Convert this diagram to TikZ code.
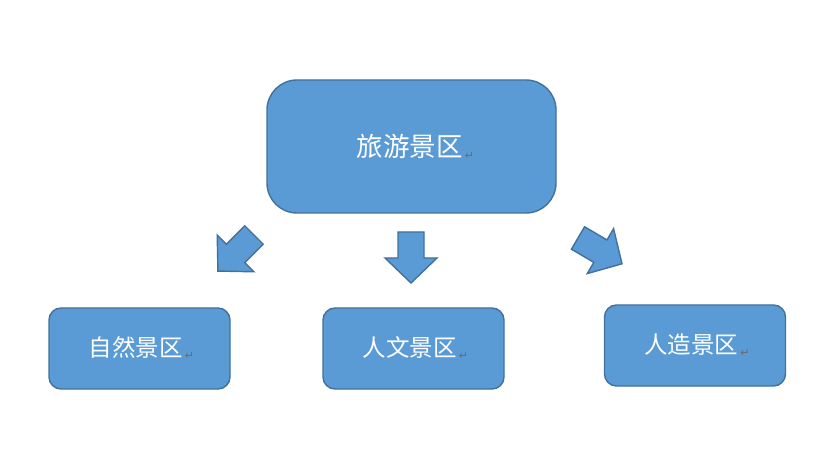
\documentclass[tikz,border=0pt]{standalone}
\usepackage{fontspec}
\newfontfamily\cjk{Noto Sans CJK SC}
\newfontfamily\symf{DejaVu Sans}
\definecolor{boxfill}{HTML}{5B9BD5}
\definecolor{boxline}{HTML}{41719C}
\definecolor{markgray}{HTML}{6A6A6A}
\newcommand{\pmark}{\hspace{2pt}{\symf\fontsize{11pt}{11pt}\selectfont\color{markgray}\raisebox{-3pt}{↵}}}
\tikzset{
  topbox/.style={draw=boxline, fill=boxfill, line width=1.4pt, rounded corners=30pt,
    minimum width=289pt, minimum height=133pt, inner sep=0pt,
    text=white, font=\cjk\fontsize{26.5pt}{26.5pt}\selectfont},
  subbox/.style={draw=boxline, fill=boxfill, line width=1.4pt, rounded corners=12pt,
    minimum width=181pt, minimum height=81pt, inner sep=0pt,
    text=white, font=\cjk\fontsize{23.5pt}{23.5pt}\selectfont},
  blockarrow/.style={draw=boxline, fill=boxfill, line width=1.4pt, line join=miter}
}
\begin{document}
\begin{tikzpicture}[x=1pt,y=-1pt]
\useasboundingbox[fill=white] (0,0) rectangle (830,470);
\node[topbox] (top) at (411.5,146.5) {\hspace*{8pt}旅游景区\pmark};
\node[subbox] (nat) at (139.5,348.5) {\hspace*{4pt}自然景区\pmark};
\node[subbox] (hum) at (413.5,348.5) {\hspace*{4pt}人文景区\pmark};
\node[subbox] (art) at (695,345.5) {\hspace*{4pt}人造景区\pmark};
\foreach \nm/\px/\py/\ang in {la/254/235/-135, ma/411/232/-90, ra/578/238/-30.4}{
  \begin{scope}[shift={(\px,\py)}, rotate=\ang]
    \draw[blockarrow] (0,-13) -- (26,-13) -- (26,-26) -- (51,0) -- (26,26) -- (26,13) -- (0,13) -- cycle;
  \end{scope}
}
\end{tikzpicture}
\end{document}
